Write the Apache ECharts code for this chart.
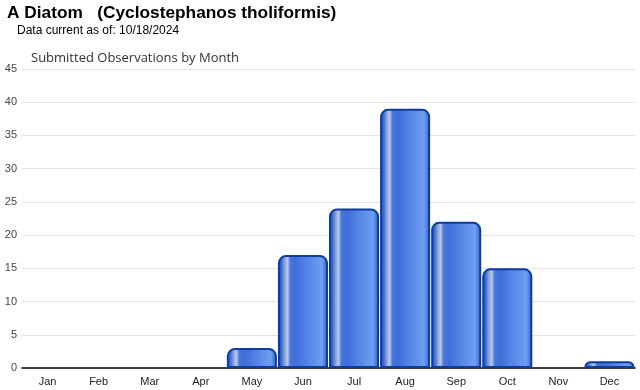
<!DOCTYPE html>
<html><head><meta charset="utf-8">
<script src="https://cdn.jsdelivr.net/npm/echarts@6/dist/echarts.min.js"></script>
<style>html,body{margin:0;padding:0;background:#fff}#c{width:640px;height:390px}</style>
</head><body><div id="c"></div>
<script>
const months = ["Jan","Feb","Mar","Apr","May","Jun","Jul","Aug","Sep","Oct","Nov","Dec"];
const observations = [0,0,0,0,3,17,24,39,22,15,0,1];
const yTicks = {min:0, max:45, interval:5};
const titleText = "A Diatom   (Cyclostephanos tholiformis)";
const subText = "Data current as of: 10/18/2024";
const chartTitle = "Submitted Observations by Month";

const chart = echarts.init(document.getElementById('c'), null, {renderer:'canvas'});
const grad = new echarts.graphic.LinearGradient(0,0,1,0,[
  {offset:0, color:'#1c4fb8'},
  {offset:0.07, color:'#3b6bd2'},
  {offset:0.14, color:'#8fa9de'},
  {offset:0.19, color:'#b9c8e6'},
  {offset:0.25, color:'#4a76d6'},
  {offset:0.35, color:'#3e6ed8'},
  {offset:0.65, color:'#5a8ae8'},
  {offset:0.88, color:'#6d9ef2'},
  {offset:1, color:'#2d5cc6'}
]);
chart.setOption({
  animation:false,
  textStyle:{fontFamily:'Liberation Sans, Arial, sans-serif'},
  graphic:[
    {type:'text', left:7, top:5, style:{text:titleText, font:'bold 17.3px "Liberation Sans", Arial, sans-serif', fill:'#000'}},
    {type:'text', left:17, top:25, style:{text:subText, font:'12px "Liberation Sans", Arial, sans-serif', fill:'#000'}},
    {type:'text', left:31, top:52, style:{text:chartTitle, font:'13px "Open Sans", "DejaVu Sans", sans-serif', fill:'#333'}}
  ],
  grid:{left:22, right:5, top:69, bottom:22, containLabel:false},
  xAxis:{
    type:'category', data:months,
    axisLine:{lineStyle:{color:'#000', width:1.5}},
    axisTick:{alignWithLabel:true, length:4, lineStyle:{color:'#ccc'}},
    axisLabel:{color:'#222', fontSize:11, margin:8}
  },
  yAxis:{
    type:'value', min:yTicks.min, max:yTicks.max, interval:yTicks.interval,
    axisLine:{show:false}, axisTick:{show:false},
    axisLabel:{color:'#444', fontSize:11, margin:5},
    splitLine:{lineStyle:{color:'#e2e2e2', width:1}}
  },
  series:[{
    type:'bar', data:observations.map(v => v === 0 ? '-' : v), barCategoryGap:'2%', z:1,
    itemStyle:{color:grad, borderColor:'#0f3b9e', borderWidth:2, borderRadius:[7,7,0,0]}
  }]
});
</script></body></html>
